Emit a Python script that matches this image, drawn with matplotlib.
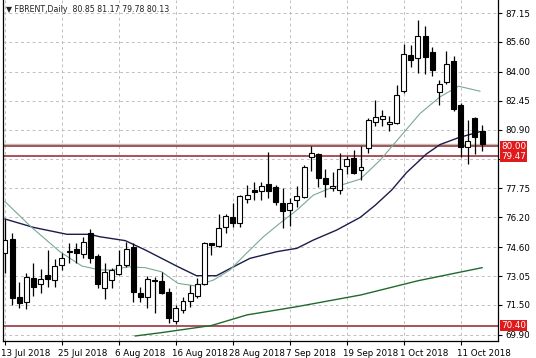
import numpy as np
import matplotlib; matplotlib.use("agg")
import matplotlib.pyplot as plt
import matplotlib.transforms as mtransforms

# daily candles, bar 0 = 13 Jul 2018
opens = [74.27, 75.04, 71.91, 71.68, 72.93, 72.61, 73.11, 72.83, 73.64, 74.33,
         74.49, 74.22, 75.34, 74.10, 72.39, 72.82, 73.15, 73.64, 74.62, 72.13,
         71.95, 72.84, 72.80, 72.21, 70.66, 71.23, 71.69, 71.98, 72.62, 74.80,
         74.66, 75.66, 76.23, 75.88, 77.20, 77.67, 77.62, 78.00, 77.84, 76.95,
         76.59, 77.13, 77.30, 79.42, 79.60, 78.33, 77.78, 77.67, 78.94, 79.38,
         78.75, 79.91, 81.29, 81.45, 81.20, 81.24, 82.97, 84.90, 84.73, 85.90,
         85.07, 82.92, 83.43, 84.60, 82.24, 79.98, 81.50, 80.85]
highs = [76.10, 75.34, 72.75, 73.23, 73.77, 73.41, 74.45, 73.95, 74.27, 74.81,
         74.81, 75.16, 75.56, 74.25, 73.73, 73.50, 74.45, 74.89, 74.81, 72.48,
         73.05, 73.02, 73.28, 72.39, 71.50, 71.95, 72.57, 72.93, 74.90, 74.85,
         76.36, 76.36, 76.95, 77.39, 77.93, 78.08, 78.11, 79.72, 77.93, 77.75,
         77.22, 77.87, 79.00, 80.04, 79.65, 78.81, 78.64, 79.67, 79.48, 79.83,
         80.04, 81.50, 82.50, 81.95, 81.64, 83.30, 85.48, 85.42, 86.79, 86.43,
         85.34, 83.55, 85.13, 84.84, 82.33, 81.43, 81.58, 81.17]
lows = [73.21, 71.50, 71.32, 71.27, 71.98, 72.13, 72.45, 72.48, 73.38, 73.73,
        73.77, 74.00, 73.77, 72.40, 71.81, 72.40, 73.10, 73.55, 71.68, 71.68,
        71.32, 71.05, 72.09, 70.52, 70.48, 71.05, 71.41, 71.90, 72.55, 74.20,
        74.62, 75.37, 75.66, 75.70, 76.97, 77.14, 77.14, 77.25, 76.86, 75.61,
        75.73, 76.77, 77.22, 78.70, 77.81, 77.30, 77.59, 77.45, 78.50, 78.50,
        78.20, 79.65, 81.07, 81.07, 80.85, 81.20, 82.88, 84.26, 83.95, 83.86,
        83.79, 82.20, 83.34, 81.88, 79.45, 79.05, 79.57, 79.78]
closes = [74.98, 71.89, 71.59, 72.98, 72.48, 72.89, 72.88, 73.59, 74.00, 74.36,
          74.30, 74.89, 74.00, 72.60, 73.28, 73.38, 73.64, 74.48, 72.21, 71.91,
          72.89, 72.76, 72.13, 70.79, 71.32, 71.71, 72.16, 72.60, 74.84, 74.72,
          75.61, 76.27, 75.88, 77.34, 77.38, 77.58, 77.89, 77.60, 77.04, 76.55,
          76.98, 77.34, 78.91, 79.65, 78.31, 78.01, 77.90, 78.78, 79.35, 78.58,
          78.90, 81.43, 81.58, 81.63, 81.32, 82.76, 84.94, 84.63, 85.93, 84.82,
          84.09, 83.37, 84.41, 82.01, 79.99, 80.28, 80.52, 80.13]

# moving averages (bar position, price)
ma_fast_x = [0, 3.75, 7.7, 10.8, 13.3, 15, 17.3, 19.7, 22, 24.3, 26.8, 29.3, 31.6, 33.9,
             36.3, 38.6, 41, 43.3, 45.6, 48, 49.9, 52.7, 55.5, 58.3, 61.1, 63.7, 66.7]
ma_fast_y = [77.04, 75.66, 74.36, 73.59, 73.38, 73.38, 73.55, 73.50, 73.28, 72.66, 72.52, 72.84,
             73.38, 74.27, 75.16, 75.88, 76.59, 77.39, 77.75, 78.02, 78.25, 79.27, 80.52,
             81.77, 82.66, 83.23, 82.96]
ma_mid_x = [0, 4, 8.7, 11.9, 13.3, 16.9, 19.7, 22, 24.3, 26.9, 29.7, 32.1, 34.4, 38.2,
            41, 43.3, 46.6, 49.9, 52, 54.3, 56.4, 59.2, 61.1, 63.7, 66.7]
ma_mid_y = [76.11, 75.66, 75.29, 75.29, 75.16, 74.95, 74.45, 74.00, 73.55, 73.07, 73.07,
            73.55, 74.00, 74.36, 74.54, 74.98, 75.52, 76.20, 76.85, 77.66, 78.60, 79.60,
            80.10, 80.47, 80.79]
ma_slow_x = [18.3, 22, 29, 34, 41, 50, 58, 67]
ma_slow_y = [69.84, 70.02, 70.40, 70.97, 71.41, 72.04, 72.80, 73.50]

levels = [80.00, 79.47, 70.40]
bid = 80.13
yticks = [69.90, 71.50, 73.05, 74.60, 76.20, 77.75, 79.35, 80.90, 82.45, 84.00, 85.60, 87.15]
ylabels = ["69.90", "71.50", "73.05", "74.60", "76.20", "77.75", "", "80.90",
           "82.45", "84.00", "85.60", "87.15"]  # 79.35 sits under the level boxes
xtick_pos = [0, 8, 16, 24, 32, 40, 48, 56, 64]
xtick_labels = ["13 Jul 2018", "25 Jul 2018", "6 Aug 2018", "16 Aug 2018", "28 Aug 2018",
                "7 Sep 2018", "19 Sep 2018", "1 Oct 2018", "11 Oct 2018"]

fig = plt.figure(figsize=(5.36, 3.58), dpi=100)
ax = fig.add_axes([3/536, 17/358, 495/536, 341/358])
ax.set_xlim(-0.28, 69.24)
ax.set_ylim(69.57, 87.85)

for y in yticks:
    ax.axhline(y, color="#c0c0c0", lw=0.7, ls=(0, (3, 3)), zorder=0)
for x in xtick_pos:
    ax.axvline(x, color="#c0c0c0", lw=0.7, ls=(0, (3, 3)), zorder=0)

ax.axhline(bid, color="#b4c4b4", lw=1.0, zorder=1)
for lv in levels:
    ax.axhline(lv, color="#9c3340", lw=1.2, zorder=1)

ax.plot(ma_slow_x, ma_slow_y, color="#1f6a2c", lw=1.0, zorder=2)
ax.plot(ma_mid_x, ma_mid_y, color="#1c1c4a", lw=1.0, zorder=2)
ax.plot(ma_fast_x, ma_fast_y, color="#7aa896", lw=0.8, zorder=2)

idx = np.arange(len(opens))
o, h, l, c = map(np.array, (opens, highs, lows, closes))
ax.vlines(idx, l, h, color="black", lw=0.9, zorder=3)
up = c >= o
body = np.maximum(np.abs(c - o), 0.04)
ax.bar(idx, body, bottom=np.minimum(o, c), width=0.7,
       color=np.where(up, "white", "black"), edgecolor="black", linewidth=0.8, zorder=4)

ax.yaxis.tick_right()
ax.set_yticks(yticks, ylabels)
ax.set_xticks(xtick_pos, xtick_labels, ha="left")
ax.tick_params(axis="both", direction="out", length=3, width=0.8, labelsize=6.3, pad=2)
ax.tick_params(axis="x", pad=3)
off = mtransforms.ScaledTranslation(-3/72, 0, fig.dpi_scale_trans)
for lab in ax.get_xticklabels():
    lab.set_transform(lab.get_transform() + off)
ax.spines["top"].set_visible(False)
for s in ("left", "right", "bottom"):
    ax.spines[s].set_linewidth(0.9)

trans = mtransforms.blended_transform_factory(ax.transAxes, ax.transData)
for lv in levels:
    ax.text(1.006, lv, f"{lv:.2f}", transform=trans, ha="left", va="center",
            fontsize=6.3, color="white", clip_on=False, zorder=10,
            bbox=dict(boxstyle="square,pad=0.15", fc="#e01a1a", ec="none"))

fig.text(6/536, 1 - 9/358, "\u25bc FBRENT,Daily  80.85 81.17 79.78 80.13",
         fontsize=5.7, va="center", ha="left", color="#222222")

fig.savefig("out.png", dpi=100)
